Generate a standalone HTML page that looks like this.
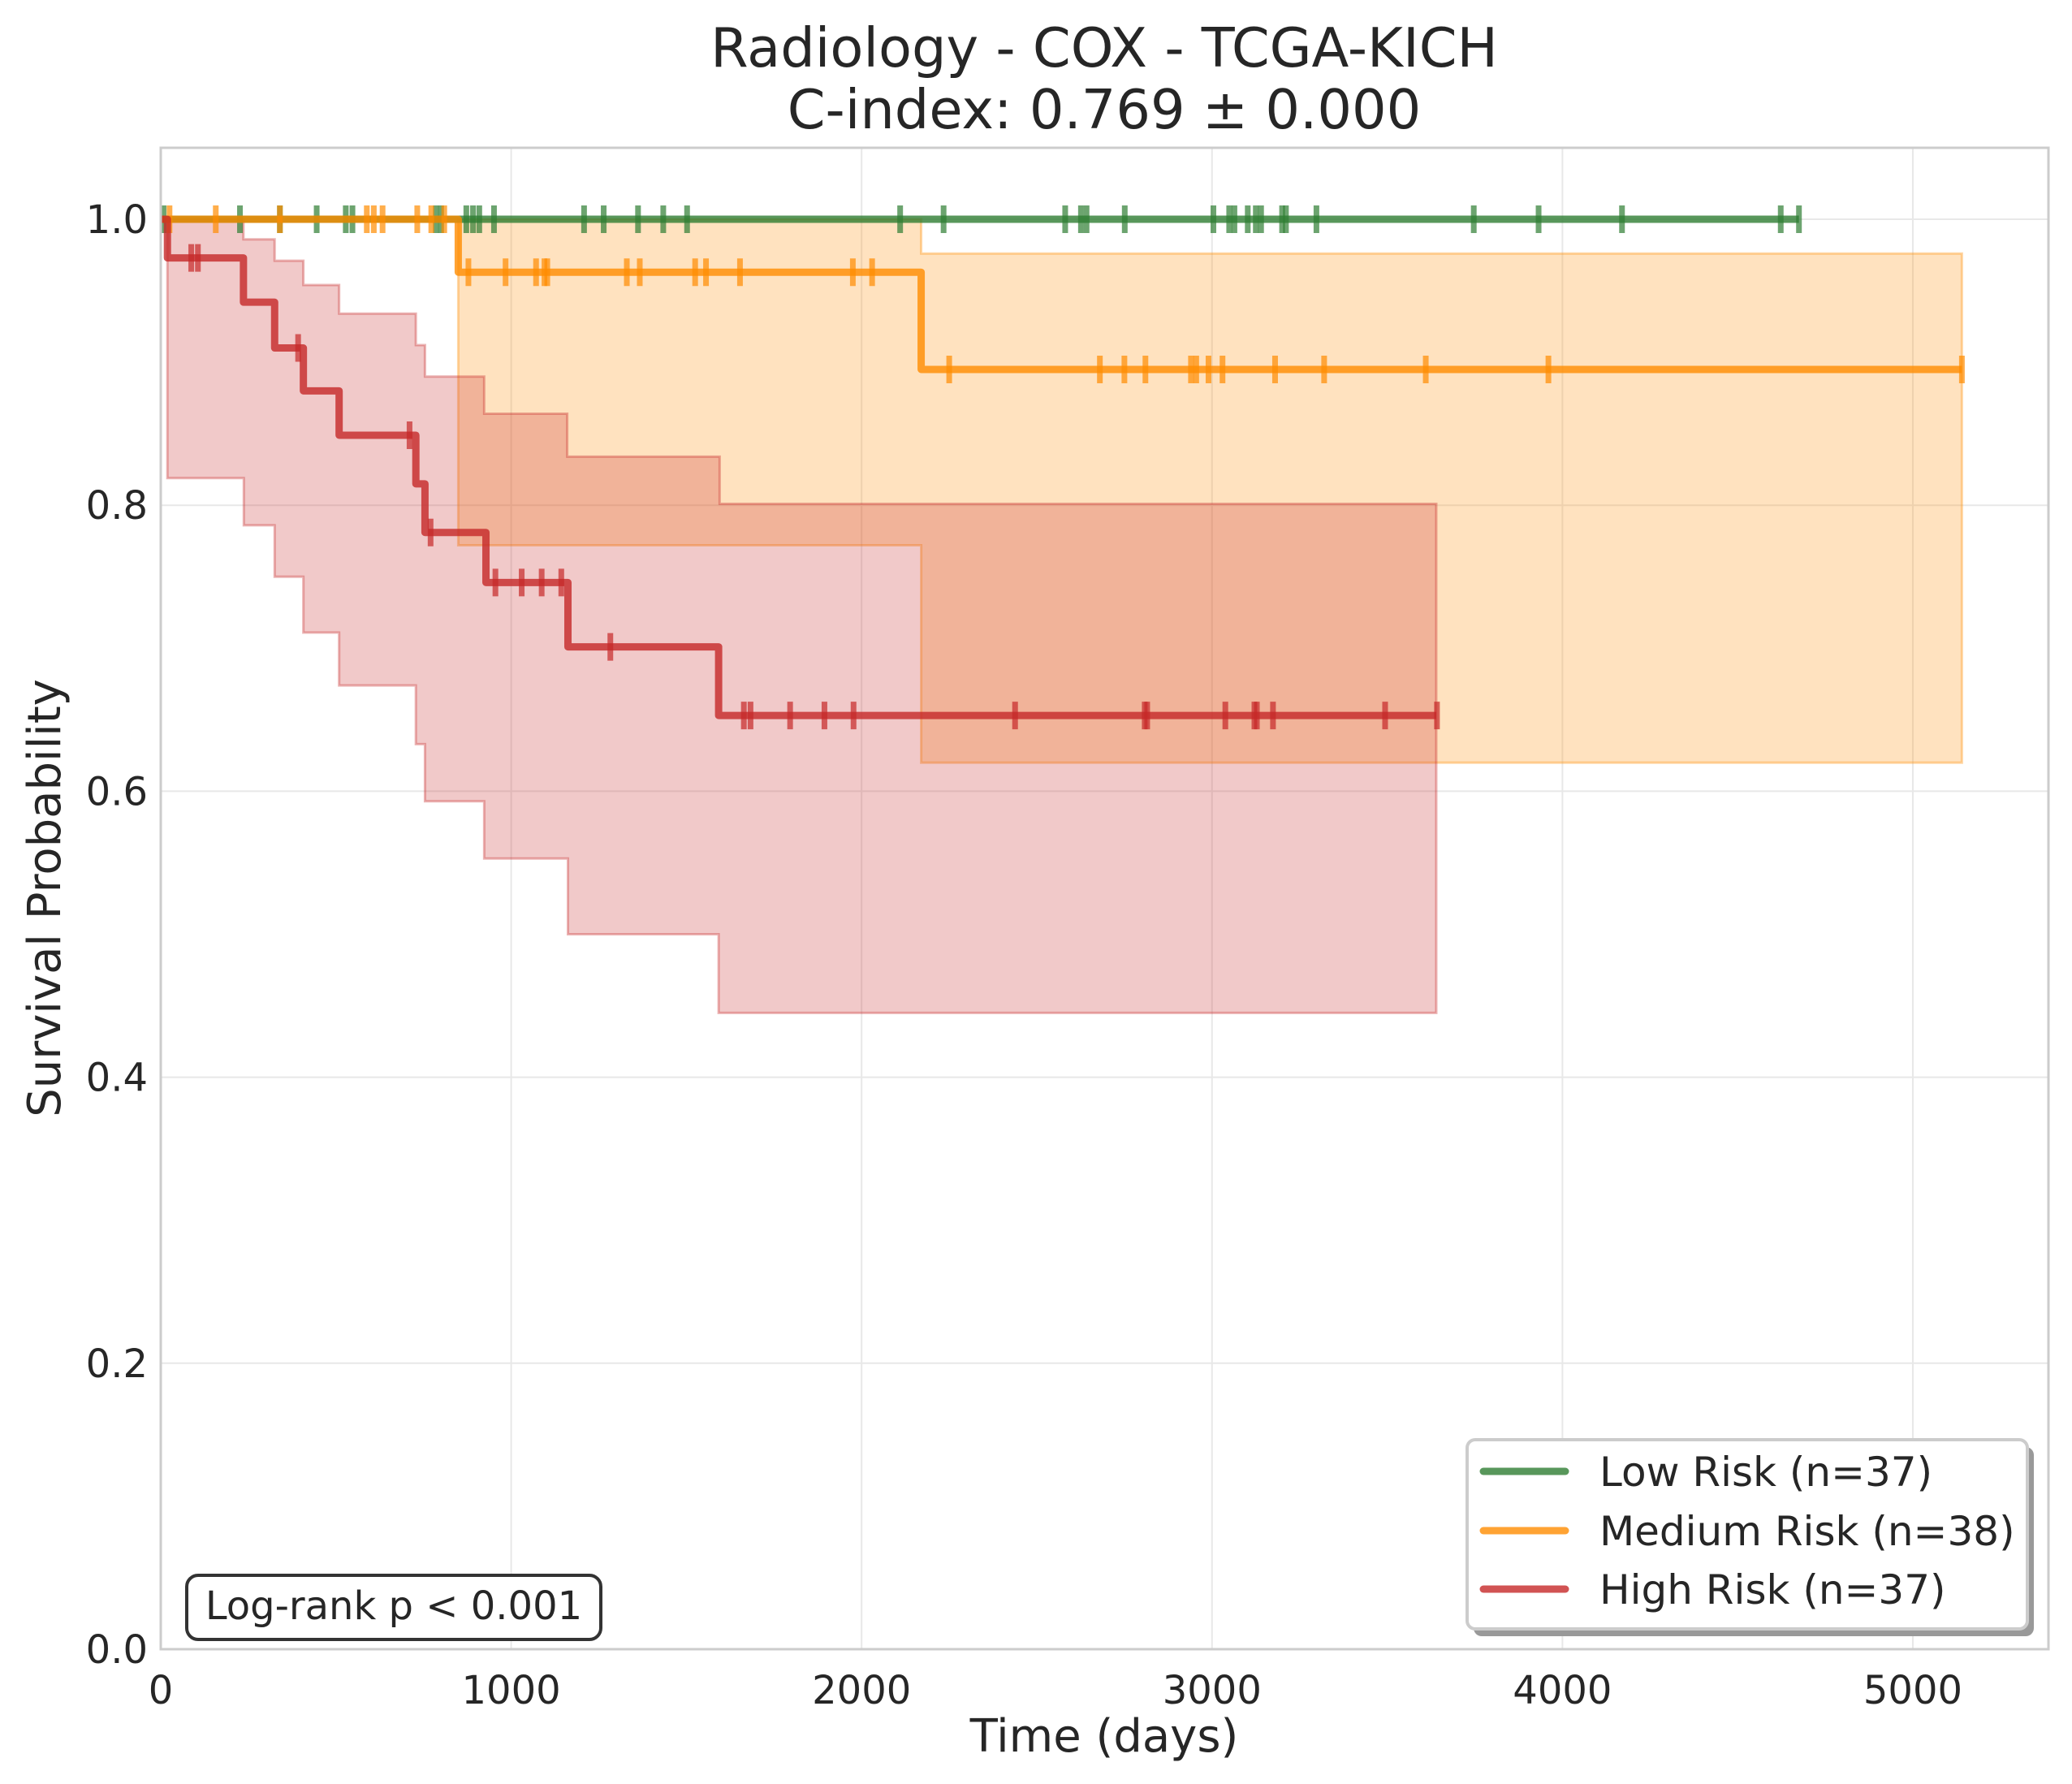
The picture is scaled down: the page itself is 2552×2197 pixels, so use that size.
<!DOCTYPE html>
<html><head><meta charset="utf-8"><style>
html,body{margin:0;padding:0;background:#fff}
svg{display:block;font-family:"DejaVu Sans","Liberation Sans",sans-serif}
</style></head><body>
<svg id="chart" width="2552" height="2197" viewBox="0 0 2552 2197">
<rect width="2552" height="2197" fill="#fff"/>
<g id="grid"></g>
<g id="fills"></g>
<g id="lines"></g>
<rect x="198" y="182" width="2325" height="1849" fill="none" stroke="#cccccc" stroke-width="3"/>
<g id="ticks"></g>
<text x="1360" y="82" font-size="67" text-anchor="middle" fill="#262626">Radiology - COX - TCGA-KICH</text>
<text x="1360" y="158" font-size="67" text-anchor="middle" fill="#262626">C-index: 0.769 ± 0.000</text>
<text x="1360" y="2157" font-size="56" text-anchor="middle" fill="#262626">Time (days)</text>
<text transform="translate(74,1106) rotate(-90)" font-size="56" text-anchor="middle" fill="#262626">Survival Probability</text>
<g>
<rect x="230" y="1940" width="510" height="79" rx="14" fill="#fff" stroke="#333" stroke-width="4"/>
<text x="485" y="1994" font-size="48" text-anchor="middle" fill="#262626">Log-rank p &lt; 0.001</text>
</g>
<g>
<rect x="1815" y="1782" width="690" height="233" rx="10" fill="#999"/>
<rect x="1807" y="1773" width="690" height="233" rx="10" fill="#fff" stroke="#cccccc" stroke-width="4"/>
<g>
<line x1="1827" y1="1812" x2="1928" y2="1812" stroke="#2e7d32" stroke-opacity="0.8" stroke-width="9" stroke-linecap="round"/>
<text x="1970" y="1830" font-size="50" fill="#262626">Low Risk (n=37)</text></g>
<g>
<line x1="1827" y1="1885" x2="1928" y2="1885" stroke="#ff8c00" stroke-opacity="0.8" stroke-width="9" stroke-linecap="round"/>
<text x="1970" y="1903" font-size="50" fill="#262626">Medium Risk (n=38)</text></g>
<g>
<line x1="1827" y1="1957" x2="1928" y2="1957" stroke="#c62828" stroke-opacity="0.8" stroke-width="9" stroke-linecap="round"/>
<text x="1970" y="1975" font-size="50" fill="#262626">High Risk (n=37)</text></g>
</g>
</svg>
<script>
const xTicks=[0,1000,2000,3000,4000,5000];
const yTicks=[0,0.2,0.4,0.6,0.8,1.0];
const yTickLabels=["0.0","0.2","0.4","0.6","0.8","1.0"];
// Low risk
const lowTimes=[0,4675];
const lowSurv=[1.0,1.0];
const lowCensor=[8,226,340,445,528,547,785,800,872,891,909,951,1208,1264,1362,1434,1502,2110,2234,2581,2626,2642,2751,3004,3049,3064,3102,3125,3140,3200,3211,3298,3747,3932,4170,4623,4675];
// Medium risk
const medTimes=[0,849,2170,5140];
const medSurv=[1.0,0.963,0.895,0.895];
const medUpper=[1.0,1.0,0.976,0.976];
const medLower=[1.0,0.772,0.62,0.62];
const medCensor=[25,157,340,588,608,633,732,772,809,878,984,1071,1095,1103,1330,1367,1525,1556,1653,1975,2030,2250,2680,2750,2810,2940,2955,2990,3030,3180,3320,3610,3960,5140];
// High risk
const highTimes=[0,19,236,325,407,509,728,754,928,1162,1592,3640];
const highSurv=[1.0,0.973,0.942,0.910,0.880,0.849,0.815,0.781,0.746,0.701,0.653,0.653];
const highUpperTimes=[19,236,325,407,509,728,754,923,1160,1595,3640];
const highUpper=[1.0,0.986,0.971,0.954,0.934,0.912,0.890,0.864,0.834,0.801,0.801];
const highLowerTimes=[19,237,325,407,509,728,754,923,1162,1592,3640];
const highLower=[0.819,0.786,0.750,0.711,0.674,0.633,0.593,0.553,0.500,0.445,0.445];
const highCensor=[87,106,392,710,770,955,1030,1087,1143,1283,1664,1683,1796,1894,1977,2438,2808,2815,3038,3121,3128,3174,3494,3642];

const X0=198,X1=2523,Y0=2031,Y1=182,XMAX=5387,YMAX=1.05;
const sx=t=>X0+(X1-X0)*t/XMAX;
const sy=v=>Y0-(Y0-Y1)*v/YMAX;
const NS="http://www.w3.org/2000/svg";
function mk(tag,attrs,parent){const e=document.createElementNS(NS,tag);for(const k in attrs)e.setAttribute(k,attrs[k]);parent.appendChild(e);return e;}
const grid=document.getElementById('grid'),ticks=document.getElementById('ticks'),fills=document.getElementById('fills'),lines=document.getElementById('lines');
xTicks.forEach(t=>{
 const l=mk('line',{x1:sx(t),x2:sx(t),y1:Y1,y2:Y0,stroke:'#e8e8e8','stroke-width':2},grid);
 
 
 const tx=mk('text',{x:sx(t),y:2098,'font-size':48,'text-anchor':'middle',fill:'#262626'},ticks);
 tx.textContent=String(t);
 
 
});
yTicks.forEach((v,i)=>{
 const l=mk('line',{x1:X0,x2:X1,y1:sy(v),y2:sy(v),stroke:'#e8e8e8','stroke-width':2},grid);
 
 
 const tx=mk('text',{x:182,y:sy(v)+17,'font-size':48,'text-anchor':'end',fill:'#262626'},ticks);
 tx.textContent=yTickLabels[i];
 
 
});
function stepPts(ts,vs){let p=[];for(let i=0;i<ts.length;i++){if(i>0)p.push([sx(ts[i]),sy(vs[i-1])]);p.push([sx(ts[i]),sy(vs[i])]);}return p;}
function stepAt(ts,vs,t){let v=vs[0];for(let i=0;i<ts.length;i++){if(ts[i]<=t)v=vs[i];}return v;}
function band(ut,uv,lt,lv,color,name){
 const up=stepPts(ut,uv),lo=stepPts(lt,lv).reverse();
 const pts=up.concat(lo).map(p=>p.join(',')).join(' ');
 const pg=mk('polygon',{points:pts,fill:color,'fill-opacity':0.25,stroke:color,'stroke-opacity':0.35,'stroke-width':3},fills);
 
 
}
band(medTimes.slice(1),medUpper.slice(1),medTimes.slice(1),medLower.slice(1),'#ff8c00','ci-band-medium');
band(highUpperTimes,highUpper,highLowerTimes,highLower,'#c62828','ci-band-high');
function curve(ts,vs,cens,color,name){
 const pl=mk('polyline',{points:stepPts(ts,vs).map(p=>p.join(',')).join(' '),fill:'none',stroke:color,'stroke-opacity':0.8,'stroke-width':9,'stroke-linejoin':'round'},lines);
 
 
 cens.forEach(t=>{
  const y=sy(stepAt(ts,vs,t));
  const c=mk('line',{x1:sx(t),x2:sx(t),y1:y-17,y2:y+17,stroke:color,'stroke-opacity':0.7,'stroke-width':7},lines);
  
  
 });
}
curve(lowTimes,lowSurv,lowCensor,'#2e7d32','low-risk');
curve(medTimes,medSurv,medCensor,'#ff8c00','medium-risk');
curve(highTimes,highSurv,highCensor,'#c62828','high-risk');
</script>
</body></html>
